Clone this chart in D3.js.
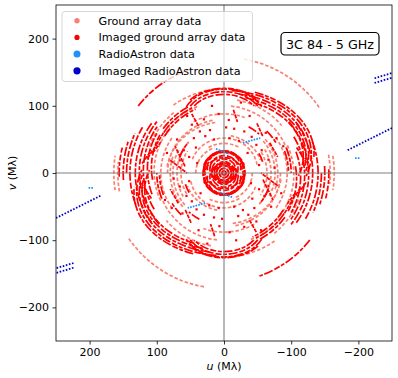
<!DOCTYPE html>
<html><head><meta charset="utf-8">
<script src="https://cdn.jsdelivr.net/npm/d3@7"></script>
<style>body{margin:0;background:#fff}text{font-family:"DejaVu Sans",sans-serif;fill:#000}</style>
</head><body><div id="chart"></div>
<script>
const W = 398, H = 378;
const box = { l: 56, r: 392, t: 5, b: 341 };
const uTicks = [200, 100, 0, -100, -200];
const vTicks = [200, 100, 0, -100, -200];
const legendLabels = ['Ground array data', 'Imaged ground array data', 'RadioAstron data', 'Imaged RadioAstron data'];
const COLORS = { ground: '#fa8072', imaged: '#ff0000', ra: '#1e90ff', raImaged: '#0000cd' };

// uv tracks: [rx, ry, centre v, start deg, end deg] (0 deg = +u); each is also drawn conjugated (-u,-v)
const groundArcs = [
  [172, 172, 0, 100, 146], [164, 164, 0, -9, 9], [158, 158, 0, 170, 186],
  [128, 125, 0, 234, 272], [118, 116, 0, 200, 232], [112, 110, 0, 100, 140],
  [100, 100, 0, 96, 172], [94, 92, 0, -35, 35], [104, 102, 2, -25, 40],
  [84, 80, 0, 0, 80], [76, 74, 0, -40, 28], [70, 70, 0, 150, 224],
  [64, 62, 0, -30, 32], [58, 56, 0, 100, 160], [50, 48, 4, 20, 170],
  [86, 80, 4, 190, 262], [42, 40, 0, 180, 250], [110, 106, 0, 40, 70],
  [90, 88, 0, 60, 110], [80, 78, 0, 140, 200], [46, 44, 0, 60, 120],
];
const imagedArcs = [
  [3, 3, 0, 0, 360], [7, 7, 0, 0, 360], [11, 11, 0, 0, 360], [14, 15, 2, 0, 360],
  [18, 18, 3, 0, 360], [21, 20, 6, 0, 360], [25, 23, 8, -10, 190], [29, 27, 4, 0, 360],
  [32, 30, 2, 20, 160], [31, 33, 0, 0, 360],
  [62, 46, 79, 25, 155], [58, 43, 78, 30, 150], [54, 40, 77, 35, 145], [66, 48, 78, 40, 140],
  [130, 95, 28, 95, 200], [126, 92, 27, 100, 195], [122, 89, 26, 105, 190],
  [134, 97, 29, 110, 185], [118, 86, 25, 112, 200],
  [140, 136, 0, -20, 30], [132, 128, 0, -35, 36], [126, 122, 2, -40, 38],
  [120, 116, 4, -30, 35], [114, 110, 6, -20, 30], [108, 104, 8, -10, 28],
  [162, 162, 0, 38, 71],
  [104, 104, 0, 212, 246], [108, 108, 0, 214, 244], [112, 112, 0, 216, 242],
  [150, 150, 0, 176, 198], [156, 156, 0, 178, 194], [145, 145, 0, 180, 204],
  [100, 100, 0, 158, 180], [96, 96, 0, 160, 178], [90, 88, 0, 135, 150],
  [78, 78, 0, 118, 132], [70, 70, 0, 20, 40], [60, 58, 0, 150, 165],
];
const imagedSegs = [
  [-14, 94, -20, 76], [-49, 74, -58, 54], [-68, 45, -80, 24], [-108, 38, -123, 15],
  [80, 19, 55, 0], [-58, -10, -73, -40], [38, 70, 48, 88], [90, 60, 102, 40],
  [122, 14, 108, 34], [114, 22, 100, 42], [106, 30, 94, 46],
];
const imagedDots = [
  [36, 62], [21, 64], [28, 55], [45, 52], [15, 50], [-7, 79], [-3, 68], [-15, 66],
  [-30, 62], [-41, 54], [-48, 42], [-56, 34], [-66, 20], [-52, 12], [60, 34], [66, 19],
  [52, 24], [42, 38], [-8, 52], [-22, 48], [8, 88], [30, 80], [48, 72], [-62, 60],
  [-78, 52], [-88, 40], [70, 50], [85, 30], [-35, 30], [40, 15], [-75, 8], [55, 85],
  [-38, 85], [18, 100], [-25, 105],
];
// RadioAstron: [u0, v0, u1, v1]
const raSegs = [[-195, 22, -202, 22], [-28, 45, -54, 52], [12, 36, -8, 28]];
const raImagedSegs = [[-184, 34, -254, 69], [-224, 141, -254, 150], [-224, 134, -254, 143]];

const conjArc = a => [a[0], a[1], -a[2], a[3] + 180, a[4] + 180];
const conjSeg = s => s.map(d => -d);

const x = d3.scaleLinear().domain([250, -250]).range([box.l, box.r]);
const y = d3.scaleLinear().domain([-250, 250]).range([box.b, box.t]);

const svg = d3.select('#chart').append('svg').attr('width', W).attr('height', H)
  .style('background', '#fff');
svg.append('clipPath').attr('id', 'clip').append('rect')
  .attr('x', box.l).attr('y', box.t).attr('width', box.r - box.l).attr('height', box.b - box.t);
const plot = svg.append('g').attr('clip-path', 'url(#clip)');

function arcPath([rx, ry, cv, t0, t1]) {
  const pt = t => [x(rx * Math.cos(t * Math.PI / 180)), y(cv + ry * Math.sin(t * Math.PI / 180))];
  const rxp = Math.abs(x(rx) - x(0)), ryp = Math.abs(y(ry) - y(0));
  const n = Math.ceil((t1 - t0) / 170);
  let [px, py] = pt(t0);
  let d = `M${px},${py}`;
  for (let i = 1; i <= n; i++) {
    const [qx, qy] = pt(t0 + (t1 - t0) * i / n);
    d += `A${rxp},${ryp} 0 0 1 ${qx},${qy}`;
  }
  return d;
}

function drawArcs(list, color, dash, w) {
  plot.append('g').selectAll('path').data(list.concat(list.map(conjArc))).join('path')
    .attr('d', arcPath).attr('fill', 'none').attr('stroke', color)
    .attr('stroke-width', w).attr('stroke-dasharray', dash);
}
function drawSegs(list, color, dash, w) {
  plot.append('g').selectAll('line').data(list.concat(list.map(conjSeg))).join('line')
    .attr('x1', d => x(d[0])).attr('y1', d => y(d[1])).attr('x2', d => x(d[2])).attr('y2', d => y(d[3]))
    .attr('stroke', color).attr('stroke-width', w).attr('stroke-dasharray', dash);
}

drawArcs(groundArcs, COLORS.ground, '3.5 2', 1.7);
drawArcs(imagedArcs, COLORS.imaged, '9 1.6 4 1.6 6 2', 1.7);
drawSegs(imagedSegs, COLORS.imaged, '4 1', 1.7);
plot.append('g').selectAll('rect').data(imagedDots.concat(imagedDots.map(conjSeg))).join('rect')
  .attr('x', d => x(d[0]) - 1).attr('y', d => y(d[1]) - 1).attr('width', 2.2).attr('height', 2.2)
  .attr('fill', COLORS.imaged);
drawSegs(raSegs, COLORS.ra, '1.6 1.2', 1.8);
drawSegs(raImagedSegs, COLORS.raImaged, '1.6 1.6', 1.8);

// zero lines
svg.append('line').attr('x1', x(0)).attr('x2', x(0)).attr('y1', box.t).attr('y2', box.b)
  .attr('stroke', '#808080').attr('stroke-width', 1.1);
svg.append('line').attr('x1', box.l).attr('x2', box.r).attr('y1', y(0)).attr('y2', y(0))
  .attr('stroke', '#808080').attr('stroke-width', 1.1);

// axes
const xa = svg.append('g').attr('transform', `translate(0,${box.b})`)
  .call(d3.axisBottom(x).tickValues(uTicks).tickSize(3.5).tickPadding(3.5).tickFormat(d3.format('')));
const ya = svg.append('g').attr('transform', `translate(${box.l},0)`)
  .call(d3.axisLeft(y).tickValues(vTicks).tickSize(3.5).tickPadding(3.5).tickFormat(d3.format('')));
[xa, ya].forEach(a => {
  a.select('.domain').remove();
  a.selectAll('line').attr('stroke', '#000').attr('stroke-width', 0.8);
  a.selectAll('text').attr('font-size', 11).attr('font-family', 'DejaVu Sans');
});
svg.append('rect').attr('x', box.l).attr('y', box.t).attr('width', box.r - box.l).attr('height', box.b - box.t)
  .attr('fill', 'none').attr('stroke', '#000').attr('stroke-width', 0.8);

const xl = svg.append('text').attr('x', x(0)).attr('y', 370).attr('text-anchor', 'middle').attr('font-size', 11);
xl.append('tspan').attr('font-style', 'italic').text('u');
xl.append('tspan').text(' (Mλ)');
const yl = svg.append('text').attr('transform', `translate(16,${y(0)}) rotate(-90)`)
  .attr('text-anchor', 'middle').attr('font-size', 11);
yl.append('tspan').attr('font-style', 'italic').text('v');
yl.append('tspan').text(' (Mλ)');

// legend
const lg = svg.append('g');
lg.append('rect').attr('x', 62).attr('y', 11.5).attr('width', 190.5).attr('height', 70).attr('rx', 3)
  .attr('fill', '#fff').attr('fill-opacity', 0.8).attr('stroke', '#cccccc').attr('stroke-width', 0.8);
const legColors = [COLORS.ground, COLORS.imaged, COLORS.ra, COLORS.raImaged];
const legR = [2.7, 2.6, 3.5, 3.6];
legendLabels.forEach((t, i) => {
  const cy = 20.7 + i * 16.7;
  lg.append('circle').attr('cx', 77).attr('cy', cy).attr('r', legR[i]).attr('fill', legColors[i]);
  lg.append('text').attr('x', 98.5).attr('y', cy + 4).attr('font-size', 11.2).text(t);
});

// title box
svg.append('rect').attr('x', 281).attr('y', 32.5).attr('width', 98).attr('height', 22.5).attr('rx', 4)
  .attr('fill', '#fff').attr('stroke', '#000').attr('stroke-width', 1.2);
svg.append('text').attr('x', 330).attr('y', 48.5).attr('text-anchor', 'middle').attr('font-size', 12.7)
  .text('3C 84 - 5 GHz');
</script></body></html>
